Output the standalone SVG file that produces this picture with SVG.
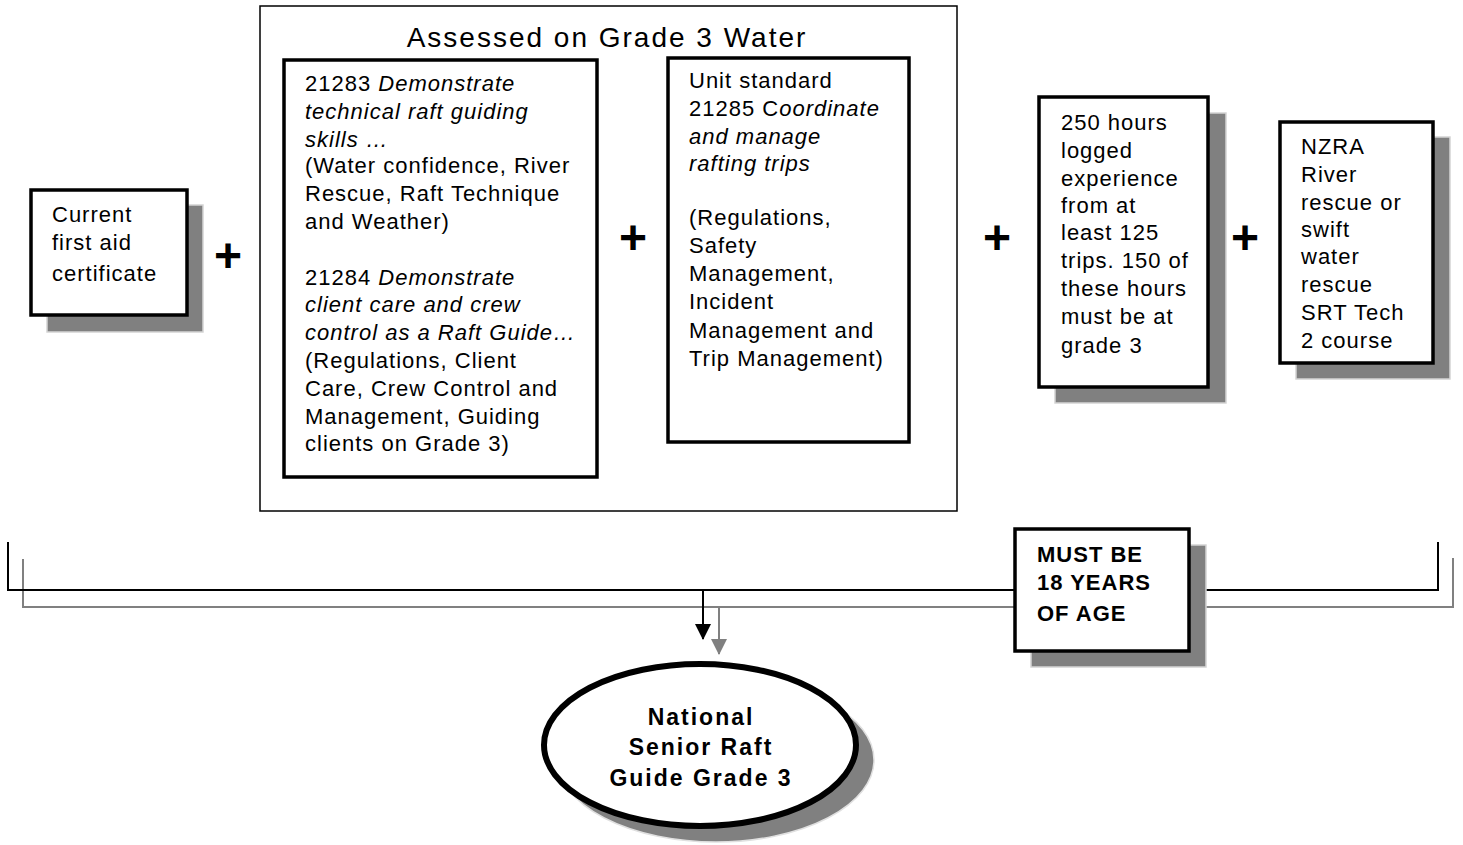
<svg xmlns="http://www.w3.org/2000/svg" width="1463" height="845" viewBox="0 0 1463 845">
<style>
text{font-family:"Liberation Sans",Arial,sans-serif;fill:#000}
.t{font-size:22px;letter-spacing:1px}
.i{font-style:italic}
.b{font-weight:bold}
.e{font-size:23px;font-weight:bold;letter-spacing:2px;text-anchor:middle}
.plus{font-size:48px;font-weight:bold;text-anchor:middle}
.box{fill:#fff;stroke:#000;stroke-width:3.5}
.shadow{fill:#808080;stroke:#d4d4d4;stroke-width:1.5}
.blk{fill:none;stroke:#000;stroke-width:2}
.gry{fill:none;stroke:#808080;stroke-width:2}
</style>
<defs>
<marker id="ab" viewBox="0 0 16 16" refX="15" refY="8" markerWidth="16" markerHeight="16" markerUnits="userSpaceOnUse" orient="auto"><path d="M0,0 L16,8 L0,16 Z" fill="#000"/></marker>
<marker id="ag" viewBox="0 0 16 16" refX="15" refY="8" markerWidth="16" markerHeight="16" markerUnits="userSpaceOnUse" orient="auto"><path d="M0,0 L16,8 L0,16 Z" fill="#808080"/></marker>
<clipPath id="clipN"><rect x="1280" y="120" width="113" height="250"/></clipPath>
</defs>
<rect width="1463" height="845" fill="#fff"/>

<g id="connectors">
<polyline class="gry" points="23,559 23,607 1453,607 1453,558"/>
<polyline class="blk" points="8,542 8,590 1438,590 1438,542"/>
<line x1="703" y1="590" x2="703" y2="639" stroke="#000" stroke-width="2" marker-end="url(#ab)"/>
<line x1="719" y1="607" x2="719" y2="654" stroke="#808080" stroke-width="2" marker-end="url(#ag)"/>
</g>

<g id="first-aid">
<rect class="shadow" x="47" y="205" width="156" height="127"/>
<rect class="box" x="31" y="190" width="156" height="125"/>
<text class="t" x="52" y="222">Current</text>
<text class="t" x="52" y="250">first aid</text>
<text class="t" x="52" y="281">certificate</text>
</g>

<g id="plus-signs">
<text class="plus" x="228" y="272">+</text>
<text class="plus" x="633" y="254">+</text>
<text class="plus" x="997" y="254">+</text>
<text class="plus" x="1245" y="254">+</text>
</g>

<g id="grade3-group">
<rect x="260" y="6" width="697" height="505" fill="none" stroke="#000" stroke-width="1.5"/>
<text x="607" y="47" font-size="28" letter-spacing="2" text-anchor="middle">Assessed on Grade 3 Water</text>
</g>

<g id="unit-21283-21284">
<rect class="box" x="284" y="60" width="313" height="417"/>
<text class="t" x="305" y="91">21283 <tspan class="i">Demonstrate</tspan></text>
<text class="t i" x="305" y="119">technical raft guiding</text>
<text class="t i" x="305" y="147">skills …</text>
<text class="t" x="305" y="173">(Water confidence, River</text>
<text class="t" x="305" y="201">Rescue, Raft Technique</text>
<text class="t" x="305" y="229">and Weather)</text>
<text class="t" x="305" y="285">21284 <tspan class="i">Demonstrate</tspan></text>
<text class="t i" x="305" y="312">client care and crew</text>
<text class="t i" x="305" y="340">control as a Raft Guide…</text>
<text class="t" x="305" y="368">(Regulations, Client</text>
<text class="t" x="305" y="396">Care, Crew Control and</text>
<text class="t" x="305" y="424">Management, Guiding</text>
<text class="t" x="305" y="451">clients on Grade 3)</text>
</g>

<g id="unit-21285">
<rect class="box" x="668" y="58" width="241" height="384"/>
<text class="t" x="689" y="88">Unit standard</text>
<text class="t" x="689" y="116">21285 C<tspan class="i">oordinate</tspan></text>
<text class="t i" x="689" y="144">and manage</text>
<text class="t i" x="689" y="171">rafting trips</text>
<text class="t" x="689" y="225">(Regulations,</text>
<text class="t" x="689" y="253">Safety</text>
<text class="t" x="689" y="281">Management,</text>
<text class="t" x="689" y="309">Incident</text>
<text class="t" x="689" y="338">Management and</text>
<text class="t" x="689" y="366">Trip Management)</text>
</g>

<g id="experience">
<rect class="shadow" x="1055" y="113" width="171" height="290"/>
<rect class="box" x="1039" y="97" width="169" height="290"/>
<text class="t" x="1061" y="130">250 hours</text>
<text class="t" x="1061" y="158">logged</text>
<text class="t" x="1061" y="186">experience</text>
<text class="t" x="1061" y="213">from at</text>
<text class="t" x="1061" y="240">least 125</text>
<text class="t" x="1061" y="268">trips. 150 of</text>
<text class="t" x="1061" y="296">these hours</text>
<text class="t" x="1061" y="324">must be at</text>
<text class="t" x="1061" y="353">grade 3</text>
</g>

<g id="rescue">
<rect class="shadow" x="1296" y="137" width="154" height="242"/>
<rect class="box" x="1280" y="122" width="153" height="241"/>
<text class="t" x="1301" y="154">NZRA</text>
<text class="t" x="1301" y="182">River</text>
<text class="t" x="1301" y="210">rescue or</text>
<text class="t" x="1301" y="237">swift</text>
<text class="t" x="1301" y="264">water</text>
<text class="t" x="1301" y="292">rescue</text>
<text class="t" x="1301" y="320">SRT Tech</text>
<text class="t" x="1301" y="348" clip-path="url(#clipN)">2 course</text>
</g>

<g id="age">
<rect class="shadow" x="1031" y="545" width="175" height="122"/>
<rect class="box" x="1015" y="529" width="174" height="122"/>
<text class="t b" x="1037" y="562">MUST BE</text>
<text class="t b" x="1037" y="590">18 YEARS</text>
<text class="t b" x="1037" y="621">OF AGE</text>
</g>

<g id="result">
<ellipse cx="716" cy="760" rx="158" ry="82" fill="#808080" stroke="#e0e0e0" stroke-width="1.5"/>
<ellipse cx="700" cy="745" rx="156" ry="81" fill="#fff" stroke="#000" stroke-width="6"/>
<text class="e" x="701" y="725">National</text>
<text class="e" x="701" y="755">Senior Raft</text>
<text class="e" x="701" y="786">Guide Grade 3</text>
</g>
</svg>
